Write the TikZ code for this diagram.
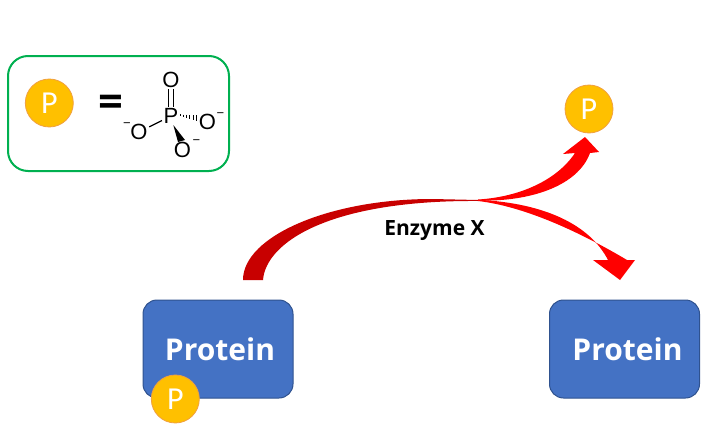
\documentclass[tikz,border=0pt]{standalone}
\usepackage{fontspec}
\setmainfont{Open Sans}
\newfontfamily\opensans{Open Sans}
\newfontfamily\carlito{Carlito}
\newfontfamily\arialf{Liberation Sans}
\definecolor{pyellow}{HTML}{FFC000}
\definecolor{porange}{HTML}{F0A040}
\definecolor{pblue}{HTML}{4472C4}
\definecolor{pborder}{HTML}{2F528F}
\definecolor{pgreen}{HTML}{00B050}
\definecolor{darkarc}{HTML}{C80000}
\begin{document}
\begin{tikzpicture}[x=1pt,y=-1pt,
  pcirc/.style={circle, fill=pyellow, draw=porange, line width=0.8pt, minimum size=48pt, inner sep=0pt, text=white, font=\carlito\fontsize{32}{32}\selectfont},
  protbox/.style={rectangle, rounded corners=14pt, fill=pblue, draw=pborder, line width=1pt, minimum width=150pt, minimum height=98pt, text=white, font=\opensans\bfseries\fontsize{30}{36}\selectfont},
  atom/.style={inner sep=1.5pt, font=\arialf\fontsize{22}{22}\selectfont},
  charge/.style={inner sep=0pt, font=\arialf\fontsize{13}{13}\selectfont},
  bond/.style={line width=1.3pt},
  keybox/.style={draw=pgreen, line width=2pt, rounded corners=20pt, minimum width=221pt, minimum height=115pt, inner sep=0pt},
  redshape/.style={fill=red},
  arcshape/.style={fill=darkarc},
  lbl/.style={font=\opensans\bfseries\fontsize{21}{21}\selectfont, inner sep=0pt}
]
\useasboundingbox (0,0) rectangle (726,447);

% key box
\node[keybox] (key) at (118.5,113.5) {};
\node[pcirc] (pkey) at (49.3,103) {P};
\node[anchor=base, inner sep=0pt, font=\carlito\bfseries\fontsize{50}{50}\selectfont] (eq) at (111,117) {=};

% phosphate
\node[atom] (Ot) at (171,80) {O};
\node[atom] (Pn) at (171,116) {P};
\node[atom] (Ol) at (139,132) {O};
\node[atom] (Or) at (207.5,122) {O};
\node[atom] (Ob) at (182.5,150) {O};
\node[charge] (cl) at (127,125) {−};
\node[charge] (cr) at (220.5,115) {−};
\node[charge] (cb) at (196.5,142.3) {−};
\draw[bond] ([xshift=-2.5pt]Ot.south) -- ([xshift=-2.5pt]Pn.north);
\draw[bond] ([xshift=2.5pt]Ot.south) -- ([xshift=2.5pt]Pn.north);
\draw[bond] (Pn) -- (Ol);
\foreach \i in {0,...,5}{
  \pgfmathsetmacro{\hx}{180+3.3*\i}
  \pgfmathsetmacro{\hy}{115.1+0.183*(\hx-179.3)}
  \pgfmathsetmacro{\hl}{0.8+0.45*\i}
  \draw[line width=1pt] (\hx,\hy-\hl) -- (\hx,\hy+\hl);
}
\fill (173.3,125) -- (178,142) -- (185,140) -- cycle;

% red arrows
\fill[arcshape] (243,280) .. controls (243,236) and (330,199) .. (432,199) -- (478,200)
  -- (478,201) .. controls (330,200) and (266,242) .. (263,280) -- cycle;
\fill[redshape] (478,199.5) .. controls (520,197) and (557,180) .. (575,153) -- (563,154) -- (585,137) -- (599,152) -- (590,153)
  .. controls (578,186) and (530,202) .. (478,200.5) -- cycle;
\fill[redshape] (478,199.8) .. controls (545,203) and (590,225) .. (608,260) -- (593,260) -- (620,280) -- (635,260) -- (627,260)
  .. controls (590,238) and (530,207) .. (478,201) -- cycle;
\node[lbl, anchor=base] (enz) at (434.5,235) {Enzyme X};

% proteins
\node[protbox] (prot1) at (218,349) {\hspace*{4pt}Protein};
\node[pcirc] (pbound) at (175.3,399) {P};
\node[protbox] (prot2) at (624.5,349) {\hspace*{6pt}Protein};
\node[pcirc] (pfree) at (589,109) {P};
\end{tikzpicture}
\end{document}
